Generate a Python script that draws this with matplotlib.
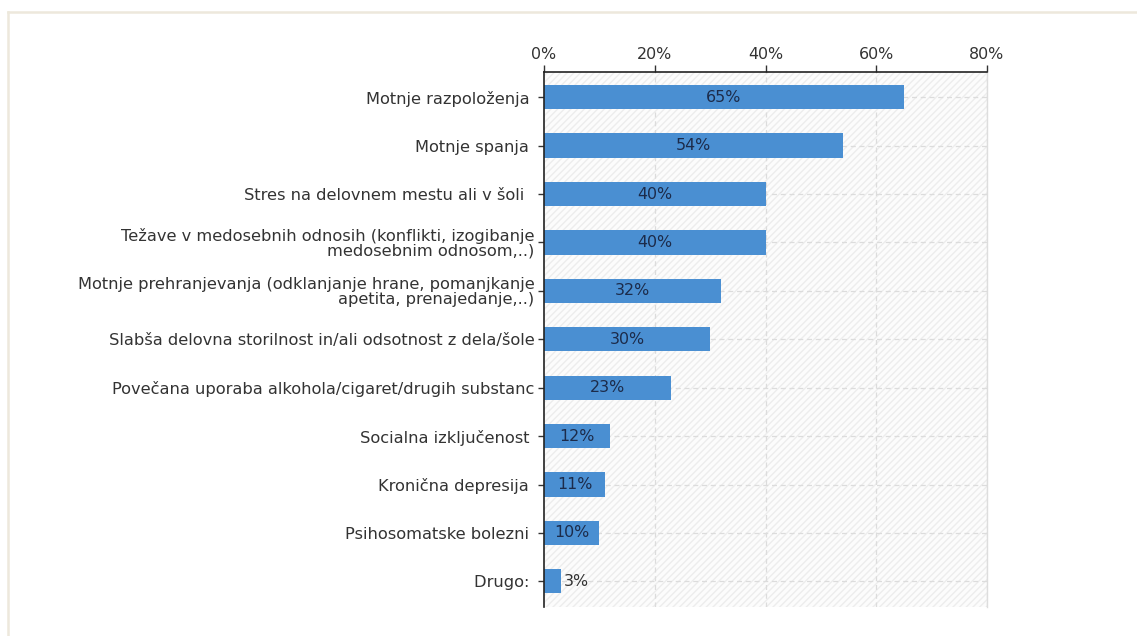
import matplotlib
matplotlib.use("Agg")
import matplotlib.pyplot as plt
from matplotlib.patches import Rectangle
from matplotlib.lines import Line2D

# survey answers, top to bottom
categories = [
    "Motnje razpoloženja ",
    "Motnje spanja ",
    "Stres na delovnem mestu ali v šoli  ",
    "Težave v medosebnih odnosih (konflikti, izogibanje\nmedosebnim odnosom,..)",
    "Motnje prehranjevanja (odklanjanje hrane, pomanjkanje\napetita, prenajedanje,..)",
    "Slabša delovna storilnost in/ali odsotnost z dela/šole",
    "Povečana uporaba alkohola/cigaret/drugih substanc",
    "Socialna izključenost ",
    "Kronična depresija ",
    "Psihosomatske bolezni ",
    "Drugo: ",
]
shares = [65, 54, 40, 40, 32, 30, 23, 12, 11, 10, 3]
xticks = [0, 20, 40, 60, 80]

BAR = "#4a8fd2"
TXT = "#333333"
FS = 11.7

fig = plt.figure(figsize=(11.37, 6.36), dpi=100)
plt.rcParams["font.family"] = ["DejaVu Sans"]

# light frame along the top and left edge of the image
fig.add_artist(Line2D([8 / 1137, 1], [1 - 11.5 / 636] * 2, color="#ede8dc", lw=1.8))
fig.add_artist(Line2D([8 / 1137] * 2, [0, 1 - 11.5 / 636], color="#ede8dc", lw=1.8))

ax = fig.add_axes([544 / 1137, 1 - 607 / 636, (987 - 544) / 1137, (607 - 72) / 636])

y = list(range(len(categories)))
ax.set_xlim(0, 80)
ax.set_ylim(len(categories) - 0.47, -0.52)

# faint hatched plot background
ax.add_patch(Rectangle((0, 0), 1, 1, transform=ax.transAxes, facecolor="#fcfcfc",
                       edgecolor="#ededed", hatch="/////", lw=0, zorder=0))
for x in xticks[1:]:
    ax.axvline(x, color="#dcdcdc", lw=0.9, ls=(0, (4, 3)), zorder=1)
for yy in y:
    ax.axhline(yy, color="#dcdcdc", lw=0.9, ls=(0, (4, 3)), zorder=1)

ax.barh(y, shares, height=0.5, color=BAR, zorder=2)
for yy, v in zip(y, shares):
    if v >= 8:
        ax.text(v / 2, yy, f"{v}%", ha="center", va="center", fontsize=FS - 0.3,
                color="#1c2b4a", zorder=3)
    else:
        ax.text(v + 0.6, yy, f"{v}%", ha="left", va="center", fontsize=FS - 0.3,
                color=TXT, zorder=3)

ax.xaxis.tick_top()
ax.set_xticks(xticks)
ax.set_xticklabels([f"{x}%" for x in xticks])
ax.set_yticks(y)
ax.set_yticklabels(categories, ha="right", multialignment="right", linespacing=0.95)
ax.tick_params(axis="x", direction="out", length=5, width=1, color="#333333",
               labelsize=FS - 0.3, labelcolor=TXT, pad=2)
ax.tick_params(axis="y", direction="out", length=4, width=1, color="#333333",
               labelsize=FS, labelcolor=TXT, pad=3)

ax.spines["bottom"].set_visible(False)
ax.spines["top"].set_color("#222222")
ax.spines["left"].set_color("#222222")
ax.spines["top"].set_linewidth(1.2)
ax.spines["left"].set_linewidth(1.2)
ax.spines["right"].set_color("#dddddd")
ax.spines["right"].set_linewidth(1)

fig.savefig("out.png", dpi=100, facecolor="white")
